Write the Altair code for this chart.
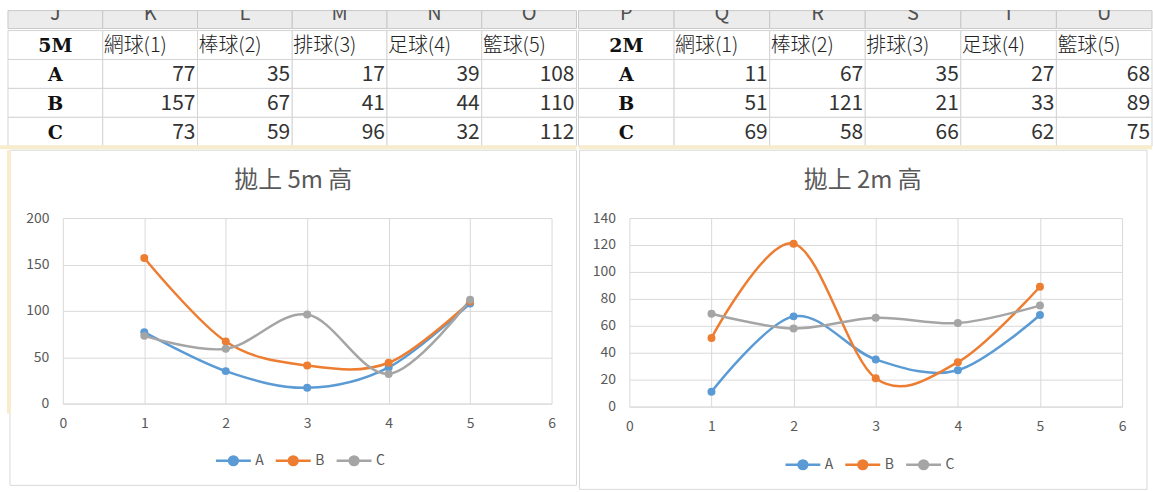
import altair as alt
import pandas as pd

# ---------------- data ----------------
sports = ["網球(1)", "棒球(2)", "排球(3)", "足球(4)", "籃球(5)"]
sport_no = [1, 2, 3, 4, 5]
groups = ["A", "B", "C"]
a_5m = [77, 35, 17, 39, 108]
b_5m = [157, 67, 41, 44, 110]
c_5m = [73, 59, 96, 32, 112]
a_2m = [11, 67, 35, 27, 68]
b_2m = [51, 121, 21, 33, 89]
c_2m = [69, 58, 66, 62, 75]
letters_5m = ["J", "K", "L", "M", "N", "O"]
letters_2m = ["P", "Q", "R", "S", "T", "U"]
label_5m = "5M"
label_2m = "2M"
title_5m = "拋上 5m 高"
title_2m = "拋上 2m 高"
x_ticks = [0, 1, 2, 3, 4, 5, 6]
y_ticks_5m = [0, 50, 100, 150, 200]
y_ticks_2m = [0, 20, 40, 60, 80, 100, 120, 140]

# ---------------- styles ----------------
COLORS = ["#5B9BD5", "#ED7D31", "#A5A5A5"]
SANS = "Noto Sans CJK TC"
NUMF = "Liberation Sans Narrow, Noto Sans CJK TC"
SERIF = "DejaVu Serif"
GRID = "#d9d9d9"
LABEL = "#595959"
YELLOW = "#f7edcc"
R = 0.25
SYM = f"M-1,0L1,0M-{R},0A{R},{R},0,1,1,{R},0A{R},{R},0,1,1,-{R},0Z"
OX = 63  # page x of the left chart's plot area


def letter_row(letters, x0, x1, rng):
    df = pd.DataFrame({"col": letters})
    x = alt.X("col:N", scale=alt.Scale(domain=letters, range=rng, paddingInner=0, paddingOuter=0), axis=None)
    bg = alt.Chart(df).mark_rect(fill="#ececec", stroke="#c8c8c8", strokeWidth=1).encode(
        x=x, y=alt.value(10), y2=alt.value(28))
    txt = alt.Chart(df).mark_text(font=SANS, fontSize=20, color="#505050",
                                  baseline="alphabetic").encode(x=x, y=alt.value(19), text="col:N")
    cover = alt.Chart(pd.DataFrame({"k": [0]})).mark_rect(fill="white").encode(
        x=alt.value(x0), x2=alt.value(x1), y=alt.value(0), y2=alt.value(9.5))
    return alt.layer(bg, txt, cover).properties(width=max(x1, 1), height=28)


def body(label, letters, vals, x0, x1, rng):
    rows = ["head"] + groups
    data_cols = letters[1:]
    label_col = letters[0]
    cells = pd.DataFrame([{"row": r, "col": c} for r in rows for c in letters])
    heads = pd.DataFrame({"col": data_cols, "t": sports})
    corner = pd.DataFrame({"col": [label_col] * 4, "row": rows, "t": [label] + groups})
    nums = pd.DataFrame([{"row": g, "col": c, "v": v}
                         for g, arr in zip(groups, vals) for c, v in zip(data_cols, arr)])
    xs = alt.Scale(domain=letters, range=rng, paddingInner=0, paddingOuter=0)
    ys = alt.Scale(domain=rows, paddingInner=0, paddingOuter=0)
    y = alt.Y("row:N", scale=ys, axis=None)
    grid = alt.Chart(cells).mark_rect(fill="white", stroke="#d4d4d4", strokeWidth=1).encode(
        x=alt.X("col:N", scale=xs, axis=None), y=y)
    head_t = alt.Chart(heads).transform_calculate(row="'head'").mark_text(
        font=SANS, fontSize=20, fontWeight=300, align="left", dx=1, dy=1, color="#222222").encode(
        x=alt.X("col:N", scale=xs, axis=None, bandPosition=0), y=y, text="t:N")
    corner_t = alt.Chart(corner).mark_text(font=SERIF, fontWeight="bold", fontSize=19, color="#111111",
                                           dy=1).encode(
        x=alt.X("col:N", scale=xs, axis=None, bandPosition=0.5), y=y, text="t:N")
    num_t = alt.Chart(nums).mark_text(font=NUMF, fontSize=21, align="right", dx=-2, dy=1,
                                      color="#333333").encode(
        x=alt.X("col:N", scale=xs, axis=None, bandPosition=1), y=y, text="v:Q")
    band = alt.Chart(pd.DataFrame({"k": [0]})).mark_rect(fill=YELLOW).encode(
        x=alt.value(x0), x2=alt.value(x1), y=alt.value(115), y2=alt.value(119))
    return alt.layer(grid, head_t, corner_t, num_t, band).properties(width=max(x1, 1), height=116)


def line_chart(vals, title, y_ticks, w, h, frame, spacer_x, title_xy, legend_xy, yellow):
    df = pd.DataFrame([{"item": n, "group": g, "value": v}
                       for g, arr in zip(groups, vals) for n, v in zip(sport_no, arr)])
    x = alt.X("item:Q", scale=alt.Scale(domain=[x_ticks[0], x_ticks[-1]], nice=False, zero=False),
              axis=alt.Axis(values=x_ticks, title=None, grid=True, gridColor=GRID, domain=True,
                            domainColor=GRID, ticks=False, labelPadding=13, labelFontSize=14,
                            labelColor=LABEL, labelFont=SANS, format="d", labelFlush=False))
    y = alt.Y("value:Q", scale=alt.Scale(domain=[y_ticks[0], y_ticks[-1]], nice=False),
              axis=alt.Axis(values=y_ticks, title=None, grid=True, gridColor=GRID, domain=False,
                            ticks=False, labelPadding=14, labelFontSize=14, labelColor=LABEL,
                            labelFont=SANS, format="d", labelFlush=False))
    color = alt.Color("group:N", scale=alt.Scale(domain=groups, range=COLORS),
                      legend=alt.Legend(orient="none", legendX=legend_xy[0], legendY=legend_xy[1],
                                        direction="horizontal", title=None, symbolType=SYM,
                                        symbolSize=1225, symbolStrokeWidth=2.5, labelFont=SANS,
                                        labelFontSize=14, labelColor=LABEL, labelOffset=3,
                                        columnPadding=6))
    fx0, fx1, fy0, fy1 = frame
    one = pd.DataFrame({"t": [title]})
    spacer = alt.Chart(one).mark_rect(opacity=0).encode(
        x=alt.value(spacer_x), x2=alt.value(spacer_x + 1), y=alt.value(0), y2=alt.value(1))
    box = alt.Chart(one).mark_rect(fillOpacity=0, stroke="#d9d9d9", strokeWidth=1).encode(
        x=alt.value(fx0), x2=alt.value(fx1), y=alt.value(fy0), y2=alt.value(fy1))
    layers = [spacer, box]
    if yellow:
        edge = alt.Chart(one).mark_rect(fill=YELLOW).encode(
            x=alt.value(fx0 - 3), x2=alt.value(fx0 + 1), y=alt.value(fy0), y2=alt.value(h + 10))
        layers.append(edge)
    ttl = alt.Chart(one).mark_text(font=SANS, fontSize=24, color=LABEL).encode(
        text="t:N", x=alt.value(title_xy[0]), y=alt.value(title_xy[1]))
    lines = alt.Chart(df).mark_line(interpolate="cardinal", strokeWidth=2.5).encode(x=x, y=y, color=color)
    pts = alt.Chart(df).mark_circle(size=64, opacity=1).encode(x=x, y=y, color=color)
    layers += [ttl, lines, pts]
    return alt.layer(*layers).properties(width=w, height=h)


top = alt.hconcat(letter_row(letters_5m, -OX, 578 - OX, [8 - OX, 578 - OX]),
                  letter_row(letters_2m, 0, 575, [0, 575]), spacing=0)
mid = alt.hconcat(body(label_5m, letters_5m, [a_5m, b_5m, c_5m], -OX, 578 - OX, [8 - OX, 578 - OX]),
                  body(label_2m, letters_2m, [a_2m, b_2m, c_2m], 0, 575, [0, 575]), spacing=0)
left = line_chart([a_5m, b_5m, c_5m], title_5m, y_ticks_5m, 490, 186,
                  (-53, 515, -68, 268), -OX, (231, -37), (152, 224), True)
right = line_chart([a_2m, b_2m, c_2m], title_2m, y_ticks_2m, 494, 189,
                   (-50, 519, -68, 272), -52, (234, -37), (155, 228), False)
bot = alt.hconcat(left, right, spacing=0).resolve_scale(
    x="independent", y="independent", color="independent").resolve_legend(color="independent")

chart = alt.vconcat(top, mid, bot, spacing=0).properties(
    padding={"left": 0, "top": 0, "right": 0, "bottom": 0},
    background="white",
).configure_view(stroke=None)

chart.save("out.html", embed_options={"renderer": "svg", "actions": False})
